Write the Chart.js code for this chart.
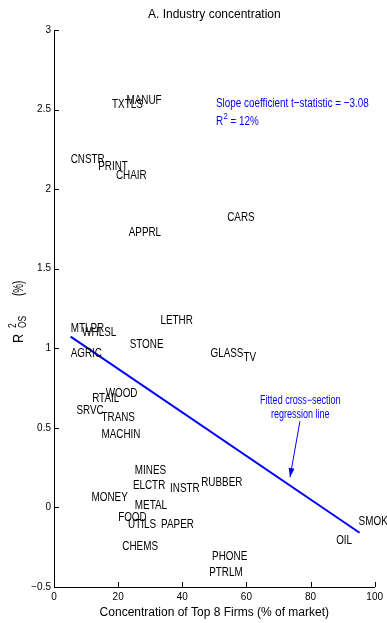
<!DOCTYPE html>
<html>
<head>
<meta charset="utf-8">
<script src="https://cdn.jsdelivr.net/npm/chart.js@4.4.1/dist/chart.umd.min.js"></script>
<style>
html,body{margin:0;padding:0;background:#fff;}
canvas{display:block;}
</style>
</head>
<body>
<canvas id="c" width="387" height="623"></canvas>
<script>
// ---- data ----
const industries = ['TXTLS','MANUF','CNSTR','PRINT','CHAIR','APPRL','CARS','LETHR','MTLPR','WHLSL','STONE','AGRIC','GLASS','TV','WOOD','RTAIL','SRVC','TRANS','MACHIN','MINES','ELCTR','INSTR','RUBBER','MONEY','METAL','FOOD','UTILS','PAPER','CHEMS','PHONE','PTRLM','OIL','SMOKE'];
const concentration = [18.1,22.6,5.2,13.8,19.3,23.3,54.0,33.2,5.2,8.8,23.6,5.2,48.8,59.1,16.1,11.9,7.0,14.8,14.8,25.2,24.6,36.2,45.9,11.7,25.2,20.0,23.1,33.4,21.3,49.3,48.4,88.0,95.0];
const r2os = [2.534,2.555,2.187,2.142,2.088,1.726,1.82,1.177,1.124,1.099,1.023,0.967,0.970,0.944,0.714,0.687,0.611,0.563,0.456,0.234,0.136,0.119,0.156,0.063,0.011,-0.063,-0.108,-0.108,-0.247,-0.306,-0.41,-0.205,-0.09];
const fitX = [5.2, 95.3];
const fitY = [1.073, -0.159];
const xTicks = [0,20,40,60,80,100];
const yTicks = [-0.5,0,0.5,1,1.5,2,2.5,3];
const statsText = ['Slope coefficient t\u2212statistic = \u22123.08', 'R', '2', ' = 12%'];
const statsPos = [50.5, 2.536, 2.423];
const fitNote = ['Fitted cross\u2212section', 'regression line'];
const fitNotePos = [76.8, 0.668, 0.581];
const arrowFrom = [76.7, 0.542];
const arrowTo = [73.6, 0.19];

const SANS = "'Liberation Sans', Arial, sans-serif";
const BLUE = '#0000ff';

Chart.defaults.color = '#000';

// draw horizontally condensed text; returns its width
function narrowText(ctx, text, x, y, size, align, squeeze) {
  const sq = squeeze || 0.76;
  ctx.save();
  ctx.font = size + 'px ' + SANS;
  const w = ctx.measureText(text).width * sq;
  let x0 = x;
  if (align === 'center') x0 = x - w / 2;
  else if (align === 'right') x0 = x - w;
  ctx.translate(x0, y);
  ctx.scale(sq, 1);
  ctx.textAlign = 'left';
  ctx.fillText(text, 0, 0);
  ctx.restore();
  return w;
}

const overlay = {
  id: 'overlay',
  afterDatasetsDraw(chart) {
    const ctx = chart.ctx;
    const xs = chart.scales.x, ys = chart.scales.y;
    const ca = chart.chartArea;
    ctx.save();
    // inward tick marks
    ctx.strokeStyle = '#000';
    ctx.lineWidth = 1;
    ctx.beginPath();
    xTicks.forEach(v => {
      const px = Math.round(xs.getPixelForValue(v)) + 0.5;
      ctx.moveTo(px, ca.bottom); ctx.lineTo(px, ca.bottom - 5);
    });
    yTicks.forEach(v => {
      const py = Math.round(ys.getPixelForValue(v)) + 0.5;
      ctx.moveTo(ca.left, py); ctx.lineTo(ca.left + 5, py);
    });
    ctx.stroke();

    // industry labels
    ctx.fillStyle = '#000';
    ctx.textBaseline = 'middle';
    industries.forEach((name, i) => {
      narrowText(ctx, name, xs.getPixelForValue(concentration[i]), ys.getPixelForValue(r2os[i]), 13, 'left');
    });

    // stats text
    ctx.fillStyle = BLUE;
    const sx = xs.getPixelForValue(statsPos[0]);
    narrowText(ctx, statsText[0], sx, ys.getPixelForValue(statsPos[1]), 13, 'left');
    const ry = ys.getPixelForValue(statsPos[2]);
    const rw = narrowText(ctx, statsText[1], sx, ry, 13, 'left');
    const sw = narrowText(ctx, statsText[2], sx + rw + 0.5, ry - 5, 9, 'left', 0.85);
    narrowText(ctx, statsText[3], sx + rw + sw + 0.5, ry, 13, 'left');

    // fitted note
    const nx = xs.getPixelForValue(fitNotePos[0]);
    narrowText(ctx, fitNote[0], nx, ys.getPixelForValue(fitNotePos[1]), 12, 'center', 0.75);
    narrowText(ctx, fitNote[1], nx, ys.getPixelForValue(fitNotePos[2]), 12, 'center', 0.75);

    // arrow
    const ax0 = xs.getPixelForValue(arrowFrom[0]), ay0 = ys.getPixelForValue(arrowFrom[1]);
    const ax1 = xs.getPixelForValue(arrowTo[0]), ay1 = ys.getPixelForValue(arrowTo[1]);
    ctx.strokeStyle = BLUE;
    ctx.lineWidth = 1;
    ctx.beginPath(); ctx.moveTo(ax0, ay0); ctx.lineTo(ax1, ay1); ctx.stroke();
    const ang = Math.atan2(ay1 - ay0, ax1 - ax0);
    const hl = 9, hw = 3;
    const bx = ax1 - hl * Math.cos(ang), by = ay1 - hl * Math.sin(ang);
    ctx.beginPath();
    ctx.moveTo(ax1, ay1);
    ctx.lineTo(bx + hw * Math.sin(ang), by - hw * Math.cos(ang));
    ctx.lineTo(bx - hw * Math.sin(ang), by + hw * Math.cos(ang));
    ctx.closePath();
    ctx.fillStyle = BLUE;
    ctx.fill();

    // y-axis title R^2_OS (%)
    ctx.fillStyle = '#000';
    ctx.translate(23, 345);
    ctx.rotate(-Math.PI / 2);
    ctx.textBaseline = 'alphabetic';
    narrowText(ctx, 'R', 2, 0, 15, 'left', 0.85);
    narrowText(ctx, '2', 17, -7, 10, 'left', 0.85);
    narrowText(ctx, 'OS', 17, 3, 10, 'left', 0.85);
    narrowText(ctx, '(%)', 49, 0, 14, 'left', 0.7);
    ctx.restore();
  }
};

new Chart(document.getElementById('c'), {
  type: 'scatter',
  data: {
    datasets: [
      {
        label: 'Industries',
        data: concentration.map((x, i) => ({x: x, y: r2os[i]})),
        pointRadius: 0,
        showLine: false
      },
      {
        label: 'Fitted cross-section regression line',
        data: fitX.map((x, i) => ({x: x, y: fitY[i]})),
        showLine: true,
        borderColor: BLUE,
        borderWidth: 2,
        pointRadius: 0,
        fill: false
      }
    ]
  },
  options: {
    responsive: false,
    animation: false,
    layout: {padding: {top: 0, right: 11, left: 0, bottom: 0}},
    plugins: {
      legend: {display: false},
      tooltip: {enabled: false},
      title: {
        display: true,
        text: 'A. Industry concentration',
        fullSize: false,
        color: '#000',
        font: {family: SANS, size: 12, weight: 'normal'},
        padding: {top: 7, bottom: 8.6}
      }
    },
    scales: {
      x: {
        type: 'linear',
        min: 0, max: 100,
        afterBuildTicks: s => { s.ticks = xTicks.map(v => ({value: v})); },
        afterFit: s => { s.height = 36; },
        grid: {display: false, drawTicks: false},
        border: {display: true, color: '#000', width: 1},
        ticks: {
          padding: 4,
          color: '#000',
          maxRotation: 0,
          font: {family: SANS, size: 10},
          callback: v => String(v)
        },
        title: {
          display: true,
          text: 'Concentration of Top 8 Firms (% of market)',
          color: '#000',
          font: {family: SANS, size: 12},
          padding: {top: 0, bottom: 3}
        }
      },
      y: {
        type: 'linear',
        min: -0.5, max: 3,
        afterBuildTicks: s => { s.ticks = yTicks.map(v => ({value: v})); },
        afterFit: s => { s.width = 54; },
        grid: {display: false, drawTicks: false},
        border: {display: true, color: '#000', width: 1},
        ticks: {
          padding: 3,
          color: '#000',
          font: {family: SANS, size: 10},
          callback: v => (v < 0 ? '\u2212' + String(-v) : String(v))
        }
      }
    }
  },
  plugins: [overlay]
});
</script>
</body>
</html>
